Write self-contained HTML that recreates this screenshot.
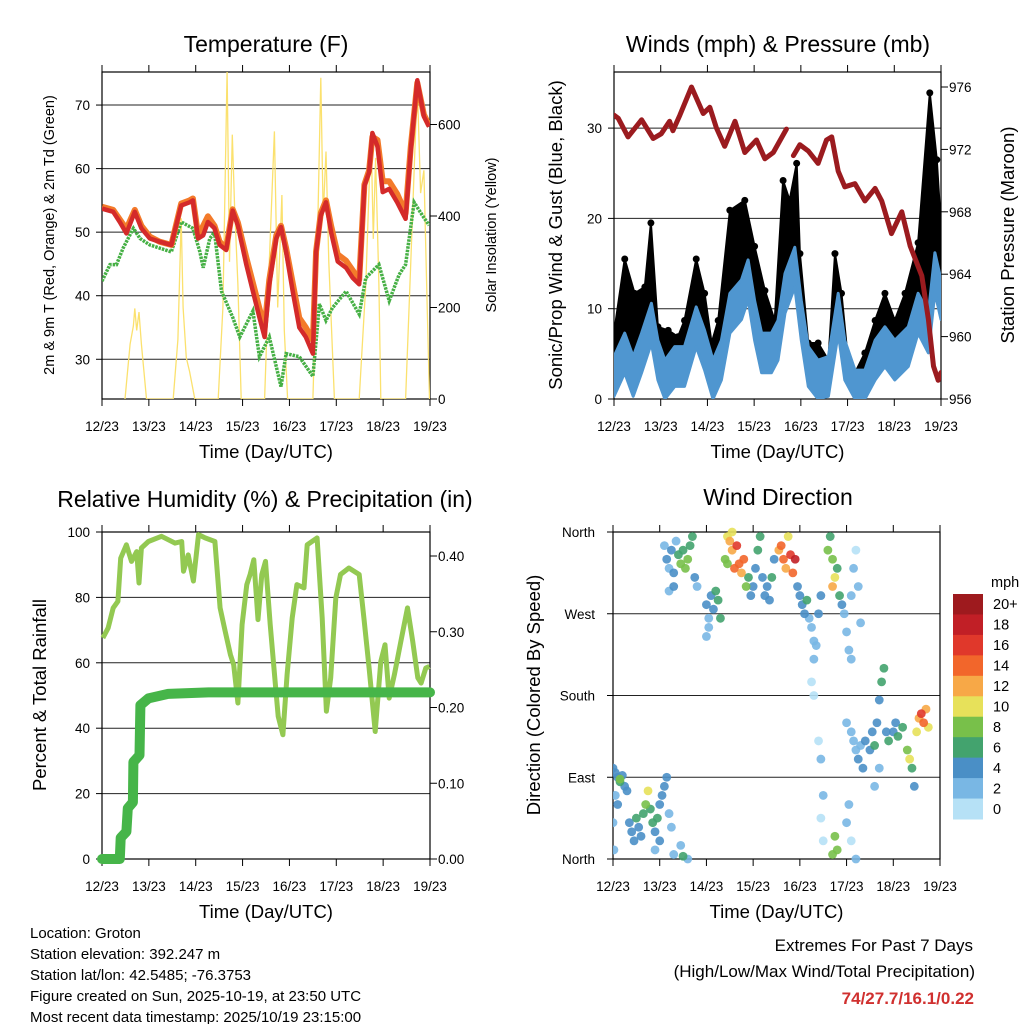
<!DOCTYPE html>
<html><head><meta charset="utf-8">
<style>
html,body{margin:0;padding:0;background:#fff;}
svg{display:block;font-family:"Liberation Sans",Arial,sans-serif;}
</style></head>
<body>
<svg id="chart" width="1024" height="1024" viewBox="0 0 1024 1024" xmlns="http://www.w3.org/2000/svg">
<rect width="1024" height="1024" fill="#fff"/>
<text x="266" y="52" font-size="23" text-anchor="middle">Temperature (F)</text>
<text x="778" y="52" font-size="23" text-anchor="middle">Winds (mph) &amp; Pressure (mb)</text>
<text x="265" y="507" font-size="23" text-anchor="middle">Relative Humidity (%) &amp; Precipitation (in)</text>
<text x="778" y="505" font-size="23" text-anchor="middle">Wind Direction</text>

<text transform="translate(54,235) rotate(-90)" font-size="14.5" text-anchor="middle">2m &amp; 9m T (Red, Orange) &amp; 2m Td (Green)</text>
<text transform="translate(496,235) rotate(-90)" font-size="14.5" text-anchor="middle">Solar Insolation (Yellow)</text>
<text transform="translate(562,235) rotate(-90)" font-size="18.5" text-anchor="middle">Sonic/Prop Wind &amp; Gust (Blue, Black)</text>
<text transform="translate(1014,235) rotate(-90)" font-size="18.5" text-anchor="middle">Station Pressure (Maroon)</text>
<text transform="translate(46,695) rotate(-90)" font-size="18.5" text-anchor="middle">Percent &amp; Total Rainfall</text>
<text transform="translate(540,695) rotate(-90)" font-size="18.5" text-anchor="middle">Direction (Colored By Speed)</text>

<g id="footer" font-size="15">
<text x="30" y="938">Location: Groton</text>
<text x="30" y="959">Station elevation: 392.247 m</text>
<text x="30" y="980">Station lat/lon: 42.5485; -76.3753</text>
<text x="30" y="1001">Figure created on Sun, 2025-10-19, at 23:50 UTC</text>
<text x="30" y="1022">Most recent data timestamp: 2025/10/19 23:15:00</text>
<text x="973" y="951" font-size="17" text-anchor="end">Extremes For Past 7 Days</text>
<text x="975" y="977" font-size="17" text-anchor="end">(High/Low/Max Wind/Total Precipitation)</text>
<text x="974" y="1004" font-size="17" font-weight="bold" fill="#d0302f" text-anchor="end">74/27.7/16.1/0.22</text>
</g>
</svg>
<script>
// ---------- data ----------
const dayLabels = ["12/23","13/23","14/23","15/23","16/23","17/23","18/23","19/23"];
const tempTicks = [30,40,50,60,70];
const solarTicks = [0,200,400,600];
const windTicks = [0,10,20,30];
const presTicks = [956,960,964,968,972,976];
const rhTicks = [0,20,40,60,80,100];
const precipTicks = [0,0.1,0.2,0.3,0.4];
const precipTickLabels = ["0.00","0.10","0.20","0.30","0.40"];
const dirTicks = [0,90,180,270,360];
const dirTickLabels = ["North","East","South","West","North"];
const speedBins = ["0","2","4","6","8","10","12","14","16","18","20+"];

const tDays = [0,0.24,0.38,0.52,0.70,0.84,1.02,1.23,1.48,1.69,1.87,1.94,2.05,2.16,2.26,2.40,2.51,2.65,2.79,2.90,3.08,3.22,3.36,3.47,3.57,3.72,3.82,3.93,4.07,4.21,4.35,4.50,4.57,4.67,4.78,4.89,5.03,5.21,5.35,5.49,5.60,5.70,5.77,5.88,5.99,6.13,6.30,6.48,6.59,6.73,6.87,6.98];
const temp2m = [53.7,53.2,51.6,49.8,53.2,50.6,49,48.5,48,54.2,54.7,55,49,49.5,51.6,50.6,48,47.2,53.4,51,44.9,40.7,36.6,33.5,41.8,49,50.8,46.9,40.7,35,33.5,30.9,46.9,52.6,54.7,50,45.4,44.4,42.8,41.8,57.3,59.4,65.6,63.5,56.3,56.8,54.7,52.1,63,73.9,68.2,66.6];
const temp9m = [54,53.5,52,50.5,53.5,51,49.3,48.5,48,54.5,55,55.3,49.5,51,52.5,51,48.5,47.5,53.6,51.5,46,42,38,35,42.5,49.5,51,47.5,42,36.5,35,33,47,53,55,51,46.5,45.5,44,42.5,57.5,59.7,65,64.5,58,58,56,53,63.5,73.5,68.5,66.8];
const tdDays = [0,0.17,0.31,0.45,0.67,0.81,1.02,1.48,1.69,1.94,2.09,2.16,2.30,2.40,2.55,2.79,2.94,3.22,3.36,3.57,3.82,3.93,4.21,4.50,4.64,4.78,4.92,5.21,5.49,5.63,5.91,6.13,6.34,6.48,6.66,6.84,6.98];
const dewpoint = [42.3,44.9,44.9,47.5,50.6,49,48,46.9,51.6,50.6,46.9,44.4,49,50,40.7,36.6,33.5,37.6,30.4,33.5,25.7,30.9,30.4,27.3,38.7,36.1,38.1,40.7,37.1,42.8,44.9,39.2,43.3,44.9,54.7,52.6,51.1];
const solarDays = [0.49,0.60,0.67,0.70,0.74,0.79,0.84,0.95, 1.52,1.62,1.69,1.73,1.80,1.87,1.98, 2.48,2.58,2.67,2.72,2.78,2.83,2.90,2.97, 3.47,3.57,3.68,3.75,3.84,3.89,3.96, 4.50,4.60,4.67,4.72,4.78,4.84,4.96, 5.49,5.63,5.74,5.79,5.84,5.91,5.95, 6.48,6.59,6.73,6.80,6.87,6.94,6.99];
const solar = [0,120,160,198,150,190,120,0, 0,130,395,200,90,60,0, 0,200,717,300,578,420,250,0, 0,300,585,200,446,150,0, 0,350,702,400,541,300,0, 0,250,585,350,527,250,0, 0,300,688,450,500,200,0];

const presDays = [0,0.09,0.30,0.59,0.84,1.01,1.19,1.26,1.41,1.66,1.91,2.05,2.19,2.37,2.59,2.80,3.05,3.23,3.41,3.69,null,3.84,3.98,4.16,4.37,4.55,4.66,4.80,4.94,5.16,5.37,5.59,5.73,5.94,6.16,6.34,6.59,6.73,6.84,6.94,7.0];
const pressure = [974.2,974,972.8,973.9,972.7,973,973.8,973.2,974.2,976,974.3,974.7,973.4,972.2,973.8,971.8,972.6,971.4,971.8,973.3,null,971.6,972.3,971.9,971.1,972.6,972.8,970.6,969.6,969.8,968.7,969.5,968.7,966.6,968,965.8,963.9,961.1,958.1,957.2,957.7];
const windDays = [0,0.23,0.41,0.59,0.80,0.94,1.09,1.30,1.51,1.76,1.94,2.12,2.30,2.48,2.73,2.87,3.01,3.16,3.37,3.51,3.66,3.87,4.01,4.16,4.37,4.59,4.80,4.94,5.16,5.37,5.59,5.80,6.01,6.30,6.51,6.73,6.87,7.0];
const windSpeed = [2.5,5.1,2.5,5.1,8.4,4.3,2.1,3.6,3.6,8,5.4,2.1,4.3,9.5,11,13.2,8.7,5.1,5.1,6.5,11.7,14.6,8.7,3.6,2.1,2.5,9.5,4.3,1,1,4.3,5.8,4.3,5.8,9.5,7.3,14,11];
const gustDays = [0,0.23,0.44,0.66,0.79,0.94,1.16,1.37,1.51,1.76,1.94,2.09,2.23,2.48,2.80,3.01,3.23,3.44,3.62,3.76,3.91,3.98,4.16,4.37,4.59,4.73,4.87,5.01,5.16,5.37,5.59,5.80,6.01,6.23,6.51,6.76,6.91,7.0];
const gustSpeed = [7.3,15.5,11.7,12.4,19.5,8,7.6,6.9,8.7,15.5,11.7,6.2,8.7,20.9,22,16.9,12,8.7,24.2,22,26.1,16.1,6.2,6.2,4.3,16.1,11.7,4.3,2.9,5.1,8.7,11.7,8.7,11.7,17.3,33.9,26.5,19];

const rhDays = [0.02,0.13,0.24,0.34,0.40,0.52,0.63,0.74,0.79,0.84,0.99,1.27,1.56,1.70,1.74,1.84,1.95,2.06,2.20,2.41,2.52,2.63,2.74,2.81,2.90,2.99,3.09,3.16,3.24,3.33,3.41,3.49,3.59,3.70,3.76,3.86,3.95,4.06,4.16,4.31,4.38,4.59,4.70,4.79,4.88,4.99,5.09,5.27,5.49,5.59,5.70,5.83,5.95,6.04,6.13,6.24,6.38,6.52,6.63,6.74,6.81,6.91,6.99];
const rh = [67.6,70.6,76.8,78.8,92,96.1,91,94,84.4,95.1,97.1,98.7,96.6,97.1,88,93,85,99.2,98.2,97.1,76.8,69.6,62.5,59.4,47.7,71.7,83.9,87,91.5,73.2,87,91,71.7,53.3,43.6,38,56.4,73.7,83.9,82.9,96.1,98.2,73.7,45.2,55.4,79.8,87,89,87,73.7,58.4,39,60.4,65.5,49.2,56.4,66.6,76.8,66.6,55.4,53.8,58.4,58.9];
const precipDays = [0,0.38,0.40,0.52,0.55,0.66,0.67,0.80,0.82,0.99,1.41,2.27,7.0];
const precip = [0,0,0.028,0.036,0.067,0.075,0.128,0.137,0.203,0.212,0.218,0.22,0.22];

const dirDays = [0.0,0.05,0.1,0.15,0.2,0.25,0.3,0.05,0.1,0.15,0.0,0.02,
 0.35,0.4,0.45,0.5,0.55,0.6,0.65,0.7,0.75,0.8,0.85,0.9,0.95,1.0,1.05,1.1,1.15,1.2,1.25,1.0,0.9,1.3,1.5,1.6,1.45,
 1.1,1.15,1.2,1.25,1.3,1.35,1.4,1.45,1.5,1.55,1.6,1.65,1.7,1.75,1.8,1.3,1.2,
 2.0,2.05,2.1,2.15,2.2,2.25,2.3,2.05,2.0,
 2.4,2.45,2.5,2.55,2.6,2.65,2.7,2.75,2.8,2.85,2.9,2.55,2.45,
 2.95,3.0,3.05,3.1,3.15,3.2,3.25,3.3,3.35,3.4,3.45,
 3.55,3.6,3.65,3.7,3.8,3.85,3.9,3.75,
 3.95,4.0,4.05,4.1,4.15,4.2,4.25,4.3,4.35,4.3,4.4,4.45,4.3,4.25,
 4.6,4.65,4.7,4.75,4.8,4.85,4.9,4.7,
 4.95,5.0,5.05,5.1,5.15,5.2,5.25,5.3,5.1,
 4.4,4.45,4.5,4.45,4.5,
 4.7,4.75,4.8,5.0,5.05,5.1,5.2,
 5.0,5.1,5.15,5.2,5.25,5.3,5.35,5.4,5.5,5.55,5.6,5.65,5.7,5.75,5.8,5.85,5.9,6.0,6.05,6.1,6.2,6.3,6.35,6.4,6.45,6.5,6.55,6.6,6.65,6.7,6.75,5.7,5.6];
const dirDeg = [100,95,90,85,92,80,75,70,60,88,40,10,
 40,30,20,45,35,25,50,60,75,55,40,30,45,60,70,80,90,50,35,20,10,5,3,0,15,
 345,330,320,340,315,350,335,325,340,320,330,345,355,310,300,300,295,
 280,265,290,275,295,285,265,255,245,
 330,355,350,340,320,345,325,315,330,300,310,360,325,
 290,300,320,340,355,310,290,300,285,310,330,
 340,345,330,320,335,315,330,355,
 300,290,280,270,285,265,255,240,235,220,270,290,180,195,
 340,355,330,310,320,290,280,300,
 270,250,230,290,320,340,300,260,220,
 130,110,70,45,20,
 5,25,10,40,60,20,0,
 150,140,130,120,110,125,100,130,120,140,125,150,175,195,210,140,130,140,150,135,145,120,110,100,80,140,155,160,150,165,145,100,80];
const dirSpeed = [3,4,3,5,4,3,4,2,3,7,2,2,
 4,4,3,5,4,3,6,7,9,6,6,4,5,4,3,4,3,2,2,3,2,2,6,2,2,
 2,4,2,3,4,2,6,7,6,8,7,6,6,3,2,4,2,
 3,2,4,4,6,5,6,2,2,
 8,10,12,12,14,16,14,12,14,8,6,10,8,
 4,4,4,6,6,4,3,4,4,6,4,
 12,14,14,12,16,14,18,10,
 4,4,4,3,5,2,2,2,1,1,3,4,0,0,
 8,6,8,10,6,6,4,12,
 2,2,1,1,1,0,1,1,2,
 0,1,1,0,0,
 8,8,8,1,1,0,2,
 1,2,1,2,3,2,4,4,4,4,6,4,4,5,6,4,6,4,4,6,6,8,10,6,4,10,12,16,14,12,10,2,2];

// ---------- helpers ----------
const svg = document.getElementById('chart');
const NS = 'http://www.w3.org/2000/svg';
function mk(tag, attrs, parent) {
  const e = document.createElementNS(NS, tag);
  for (const k in attrs) e.setAttribute(k, attrs[k]);
  (parent || svg).appendChild(e);
  return e;
}
function lin(d0, d1, r0, r1) { return v => r0 + (v - d0) * (r1 - r0) / (d1 - d0); }
function pathFrom(xs, ys, fx, fy) {
  let d = '', pen = false;
  for (let i = 0; i < xs.length; i++) {
    if (xs[i] === null || ys[i] === null) { pen = false; continue; }
    d += (pen ? 'L' : 'M') + fx(xs[i]).toFixed(1) + ' ' + fy(ys[i]).toFixed(1);
    pen = true;
  }
  return d;
}

function panelFrame(p, name) {
  const g = mk('g', {});
  
  
  for (let i = 0; i <= 7; i++) {
    const x = p.sx(i);
    mk('line', {x1: x, y1: p.y1, x2: x, y2: p.y1 + 7, stroke: '#000', 'stroke-width': 1}, g);
    mk('line', {x1: x, y1: p.y0, x2: x, y2: p.y0 - 7, stroke: '#000', 'stroke-width': 1}, g);
    const t = mk('text', {x: x, y: p.y1 + 32, 'font-size': 13.5, 'text-anchor': 'middle'}, g);
    
    
    t.textContent = dayLabels[i];
  }
  const xt = mk('text', {x: (p.x0 + p.x1) / 2, y: p.y1 + 59, 'font-size': 18.5, 'text-anchor': 'middle'}, g);
  
  
  xt.textContent = 'Time (Day/UTC)';
  return g;
}
function leftAxis(p, ticks, labels, fy, g, grid) {
  ticks.forEach((v, i) => {
    const y = fy(v);
    if (grid) mk('line', {x1: p.x0, y1: y, x2: p.x1, y2: y, stroke: '#222', 'stroke-width': 1}, g);
    mk('line', {x1: p.x0 - 6, y1: y, x2: p.x0, y2: y, stroke: '#000'}, g);
    const t = mk('text', {x: p.x0 - 12, y: y + 5, 'font-size': 13.5, 'text-anchor': 'end'}, g);
    
    
    t.textContent = labels[i];
  });
}
function rightAxis(p, ticks, labels, fy, g) {
  ticks.forEach((v, i) => {
    const y = fy(v);
    mk('line', {x1: p.x1, y1: y, x2: p.x1 + 7, y2: y, stroke: '#000'}, g);
    const t = mk('text', {x: p.x1 + 8, y: y + 5, 'font-size': 13.5, 'text-anchor': 'start'}, g);
    
    
    t.textContent = labels[i];
  });
}
function box(p, g) {
  mk('rect', {x: p.x0, y: p.y0, width: p.x1 - p.x0, height: p.y1 - p.y0, fill: 'none', stroke: '#000', 'stroke-width': 1.2}, g);
}
function clip(id, p) {
  const c = mk('clipPath', {id: id});
  mk('rect', {x: p.x0, y: p.y0, width: p.x1 - p.x0, height: p.y1 - p.y0}, c);
}

// ---------- Panel 1: temperature ----------
const P1 = {x0: 102, x1: 430, y0: 72, y1: 399};
P1.sx = lin(0, 7, P1.x0, P1.x1);
const yT = lin(23.75, 75.2, 399, 72);
const yS = lin(0, 600, 399, 124.5);
clip('c1', P1);
const g1 = panelFrame(P1, 'temperature');
leftAxis(P1, tempTicks, tempTicks.map(String), yT, g1, true);
rightAxis(P1, solarTicks, solarTicks.map(String), yS, g1);
const s1 = mk('g', {'clip-path': 'url(#c1)'});
let e;
e = mk('path', {d: pathFrom(solarDays, solar, P1.sx, yS), fill: 'none', stroke: '#fbe16e', 'stroke-width': 1.3}, s1);


e = mk('path', {d: pathFrom(tdDays, dewpoint, P1.sx, yT), fill: 'none', stroke: '#46b045', 'stroke-width': 3.5, 'stroke-dasharray': '2.5 1'}, s1);


e = mk('path', {d: pathFrom(tDays, temp9m, P1.sx, yT), fill: 'none', stroke: '#f37a2a', 'stroke-width': 6, 'stroke-linejoin': 'round'}, s1);


e = mk('path', {d: pathFrom(tDays, temp2m, P1.sx, yT), fill: 'none', stroke: '#d42a2a', 'stroke-width': 4.5, 'stroke-linejoin': 'round'}, s1);


box(P1, g1);

// ---------- Panel 2: winds & pressure ----------
const P2 = {x0: 614, x1: 941, y0: 72, y1: 399};
P2.sx = lin(0, 7, P2.x0, P2.x1);
const yW = lin(0, 10, 399, 308.7);
const yP = lin(956, 976, 399, 87);
clip('c2', P2);
const g2 = panelFrame(P2, 'winds');
leftAxis(P2, windTicks, windTicks.map(String), yW, g2, true);
rightAxis(P2, presTicks, presTicks.map(String), yP, g2);
const s2 = mk('g', {'clip-path': 'url(#c2)'});
let gd = '';
gustDays.forEach((d, i) => { gd += (i ? 'L' : 'M') + P2.sx(d).toFixed(1) + ' ' + yW(gustSpeed[i]).toFixed(1); });
for (let i = windDays.length - 1; i >= 0; i--) gd += 'L' + P2.sx(windDays[i]).toFixed(1) + ' ' + yW(windSpeed[i]).toFixed(1);
e = mk('path', {d: gd + 'Z', fill: '#000', stroke: '#000', 'stroke-width': 2, 'stroke-linejoin': 'round'}, s2);


gustDays.forEach((d, i) => {
  const c = mk('circle', {cx: P2.sx(d), cy: yW(gustSpeed[i]), r: 3.5, fill: '#000'}, s2);
  
  
});
let wd = '';
windDays.forEach((d, i) => { wd += (i ? 'L' : 'M') + P2.sx(d).toFixed(1) + ' ' + yW(windSpeed[i] + 2.2).toFixed(1); });
for (let i = windDays.length - 1; i >= 0; i--) wd += 'L' + P2.sx(windDays[i]).toFixed(1) + ' ' + yW(Math.max(0, windSpeed[i] - 2.2)).toFixed(1);
e = mk('path', {d: wd + 'Z', fill: '#4f96d0', stroke: '#4f96d0', 'stroke-width': 3, 'stroke-linejoin': 'round'}, s2);


e = mk('path', {d: pathFrom(presDays, pressure, P2.sx, yP), fill: 'none', stroke: '#9b1b1f', 'stroke-width': 5, 'stroke-linejoin': 'round', 'stroke-linecap': 'round'}, s2);


box(P2, g2);

// ---------- Panel 3: RH & precip ----------
const P3 = {x0: 102, x1: 430, y0: 532, y1: 859};
P3.sx = lin(0, 7, P3.x0, P3.x1);
const yRH = lin(0, 100, 859, 532);
const yPr = lin(0, 0.4, 859, 556);
clip('c3', {x0: 90, x1: 442, y0: 532, y1: 872});
const g3 = panelFrame(P3, 'humidity');
leftAxis(P3, rhTicks, rhTicks.map(String), yRH, g3, true);
rightAxis(P3, precipTicks, precipTickLabels, yPr, g3);
const s3 = mk('g', {'clip-path': 'url(#c3)'});
e = mk('path', {d: pathFrom(rhDays, rh, P3.sx, yRH), fill: 'none', stroke: '#93c952', 'stroke-width': 5, 'stroke-linejoin': 'round'}, s3);


e = mk('path', {d: pathFrom(precipDays, precip, P3.sx, yPr), fill: 'none', stroke: '#46b549', 'stroke-width': 10, 'stroke-linejoin': 'round', 'stroke-linecap': 'round'}, s3);


box(P3, g3);

// ---------- Panel 4: wind direction ----------
const P4 = {x0: 613, x1: 940, y0: 532, y1: 859};
P4.sx = lin(0, 7, P4.x0, P4.x1);
const yD = lin(0, 360, 859, 532);
const binColors = ['#b6e1f6','#79b7e4','#4a8fc6','#43a36e','#78c04a','#e7e15a','#f7a847','#f2662b','#e0382b','#c11f26','#9e1a1e'];
clip('c4', {x0: 613, x1: 945, y0: 527, y1: 864});
const g4 = panelFrame(P4, 'wind-direction');
dirTicks.forEach((v, i) => {
  const y = yD(v);
  if (i > 0 && i < 4) mk('line', {x1: P4.x0, y1: y, x2: P4.x1, y2: y, stroke: '#222'}, g4);
  mk('line', {x1: P4.x0 - 6, y1: y, x2: P4.x0, y2: y, stroke: '#000'}, g4);
  const t = mk('text', {x: P4.x0 - 18, y: y + 5, 'font-size': 13.5, 'text-anchor': 'end'}, g4);
  
  
  t.textContent = dirTickLabels[i];
});
const s4 = mk('g', {'clip-path': 'url(#c4)'});
const order = dirSpeed.map((s, i) => i).sort((a, b) => dirSpeed[a] - dirSpeed[b]);
order.forEach(i => {
  const b = Math.min(10, Math.round(dirSpeed[i] / 2));
  const c = mk('circle', {cx: P4.sx(dirDays[i]), cy: yD(dirDeg[i]), r: 4.4, fill: binColors[b], 'fill-opacity': 0.9}, s4);
  
  
});
box(P4, g4);
const cb = mk('g', {});


const cbTop = 594, cbH = 225 / 11;
for (let k = 0; k < 11; k++) {
  const idx = 10 - k;
  mk('rect', {x: 953, y: cbTop + k * cbH, width: 30, height: cbH + 0.5, fill: binColors[idx]}, cb);
  const t = mk('text', {x: 993, y: cbTop + k * cbH + cbH / 2 + 5, 'font-size': 14.5}, cb);
  
  
  t.textContent = speedBins[idx];
}
const mph = mk('text', {x: 991, y: 587, 'font-size': 14.5}, cb);


mph.textContent = 'mph';
</script>
</body></html>
